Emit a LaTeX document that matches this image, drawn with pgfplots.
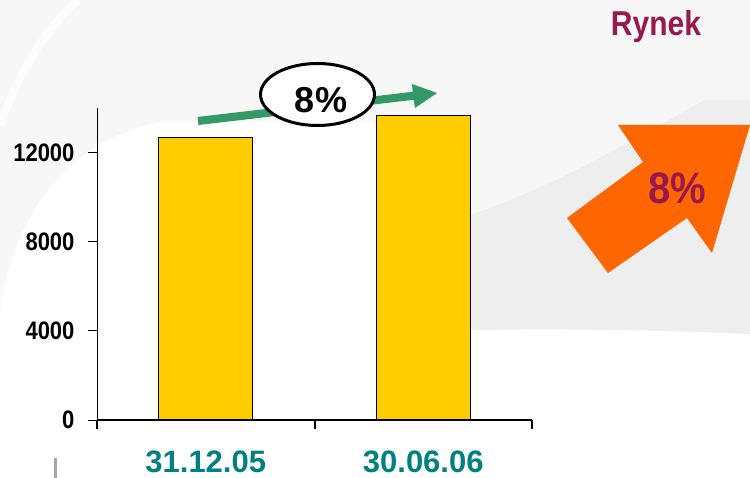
\documentclass[border=0pt]{standalone}
\usepackage{pgfplots}
\pgfplotsset{compat=1.18}
\usepackage{fontspec}
\setmainfont{Liberation Sans}
\definecolor{barY}{HTML}{FFCC00}
\definecolor{teal2}{HTML}{008080}
\definecolor{maroon2}{HTML}{99194F}
\definecolor{orange2}{HTML}{FF6600}
\definecolor{green2}{HTML}{339966}
\definecolor{bg}{HTML}{F7F7F7}
\definecolor{bg2}{HTML}{EEEEEE}
\begin{document}
\begin{tikzpicture}[x=1pt,y=1pt]
\useasboundingbox (0,0) rectangle (750,478);
% background
\fill[bg] (0,0) rectangle (750,478);
\fill[white] (0,0) -- (0,168) .. controls (15,268) and (70,338) .. (160,356) -- (470,356) -- (470,0) -- cycle;
\fill[white] (470,148) .. controls (560,150) and (660,148) .. (750,144) -- (750,0) -- (470,0) -- cycle;
\fill[bg2] (470,148) -- (470,263) .. controls (560,293) and (640,343) .. (705,378) -- (750,378) -- (750,144) .. controls (660,148) and (560,150) .. (470,148) -- cycle;
\draw[white, line width=8pt, opacity=0.7] (0,353) .. controls (20,408) and (45,448) .. (78,478);
\begin{axis}[
  at={(97pt,58pt)}, anchor=south west,
  scale only axis, width=435pt, height=312pt,
  xmin=0, xmax=2, ymin=0, ymax=14000,
  axis x line*=bottom, axis y line*=left,
  clip=false,
  scaled y ticks=false,
  xtick={0,1,2}, xticklabels={},
  extra x ticks={0.5,1.5},
  extra x tick labels={31.12.05,30.06.06},
  extra x tick style={major tick length=0pt, tick style={draw=none},
    tick label style={font=\fontsize{31}{31}\selectfont\bfseries, text=teal2, anchor=center, inner sep=0pt, yshift=-42pt}},
  ytick={0,4000,8000,12000},
  tick align=outside, major tick length=9pt,
  x axis line style={line width=2pt, -},
  y axis line style={line width=1pt, -},
  xtick style={line width=2pt, black},
  ytick style={line width=0.8pt, black},
  yticklabel style={font=\fontsize{22}{22}\selectfont\bfseries, anchor=east, xshift=-10pt},
  yticklabel={\scalebox{1}[1.15]{\pgfmathprintnumber{\tick}}},
  /pgf/number format/assume math mode=true,
  /pgf/number format/1000 sep={},
]
\addplot[ybar, bar width=94pt, fill=barY, draw=black, line width=1pt] coordinates {(0.5,12670) (1.5,13660)};
\end{axis}
% green arrow
\fill[green2] (198.5,353) -- (413.7,378.2) -- (415,370) -- (437,385) -- (412,394) -- (412.7,386.2) -- (197.5,361) -- cycle;
% ellipse
\draw[line width=3pt, fill=white] (317.5,383.5) ellipse [x radius=57, y radius=31];
\node[font=\fontsize{36}{36}\selectfont\bfseries] at (321,378) {8\%};
% orange arrow
\fill[orange2] (618,353) -- (750,353) -- (712,225) -- (687,260) -- (608,205) -- (567,260) -- (643,316) -- cycle;
\node[text=maroon2, font=\fontsize{40}{40}\selectfont\bfseries] at (677,290) {\scalebox{1}[1.1]{8\%}};
% title
\node[text=maroon2, font=\fontsize{30}{30}\selectfont\bfseries] at (656,451) {\scalebox{1}[1.15]{Rynek}};
% small gray mark
\fill[gray!70] (54,0) rectangle (56.5,20);
\end{tikzpicture}
\end{document}
